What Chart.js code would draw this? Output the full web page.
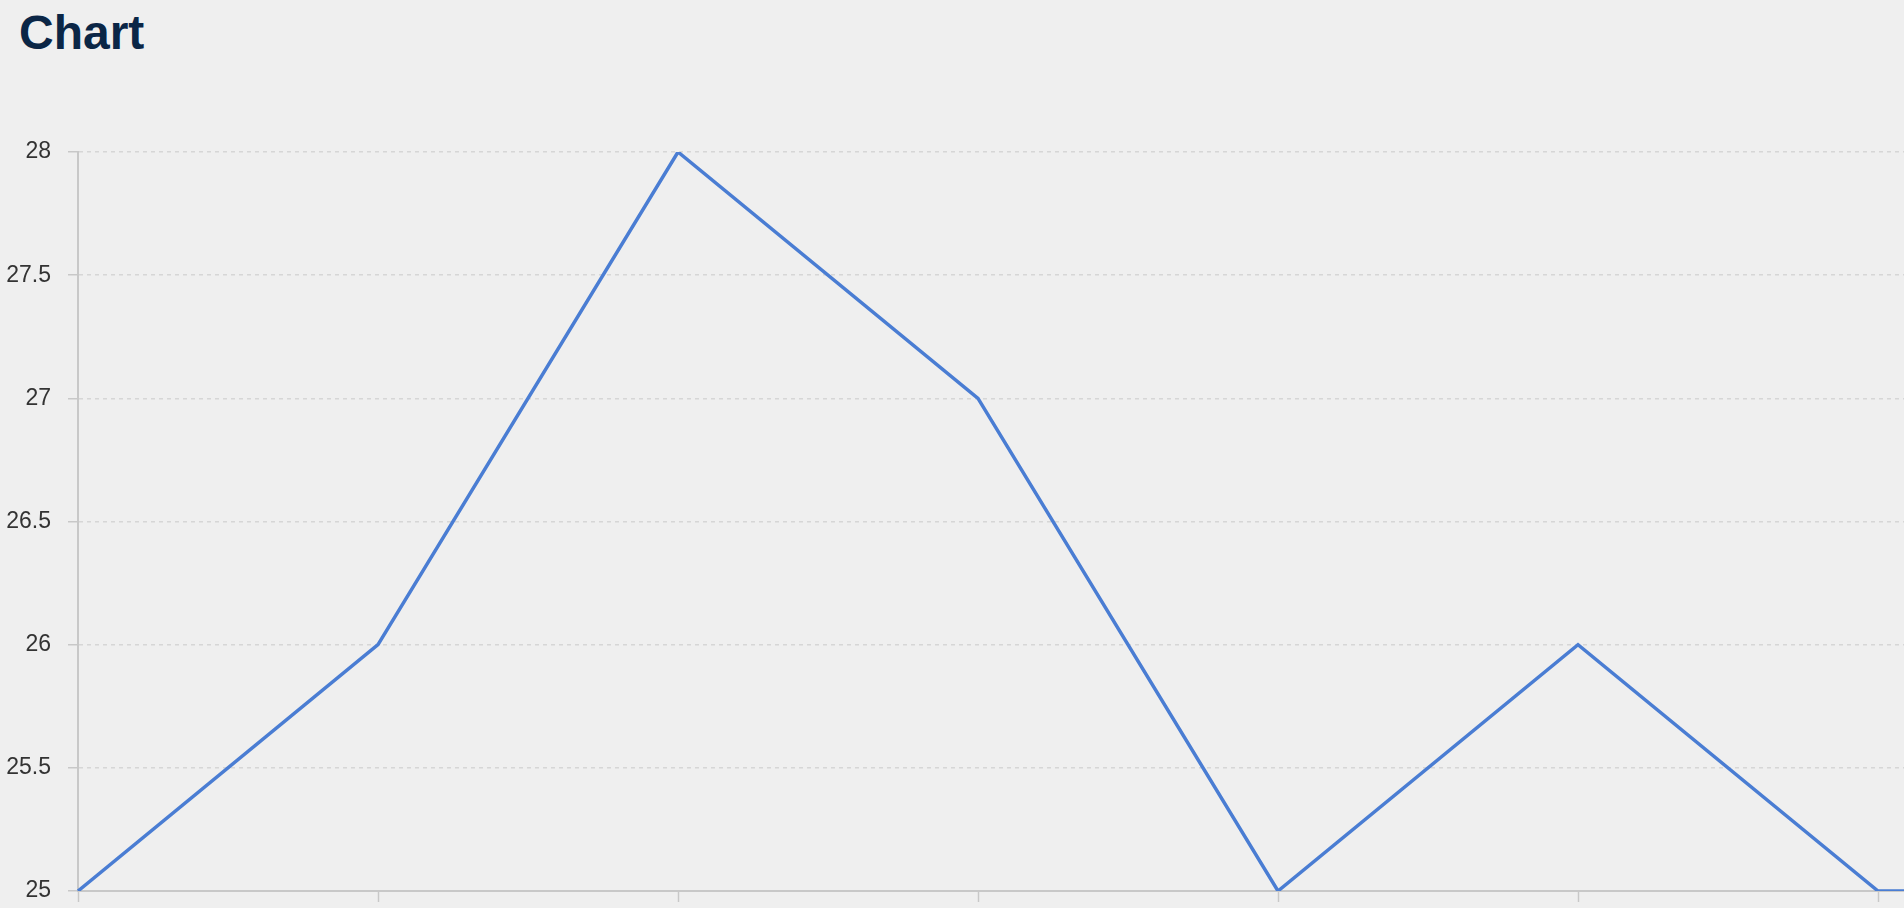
<!DOCTYPE html>
<html>
<head>
<meta charset="utf-8">
<title>Chart</title>
<script src="https://cdn.jsdelivr.net/npm/chart.js@4/dist/chart.umd.min.js"></script>
<style>
  html, body {
    margin: 0;
    padding: 0;
    width: 1904px;
    height: 908px;
    overflow: hidden;
    background: #efefef;
  }
  h1 {
    position: absolute;
    left: 19px;
    top: 9px;
    margin: 0;
    font: bold 48px/1 "Liberation Sans", Arial, sans-serif;
    color: #0b2646;
  }
  .chart-wrap {
    position: absolute;
    left: 0;
    top: 100px;
    width: 2300px;
    height: 851px;
  }
</style>
</head>
<body>
<h1>Chart</h1>
<div class="chart-wrap"><canvas class="js-chart"></canvas></div>
<script>
// データ
const categories = ["1", "2", "3", "4", "5", "6", "7", "8"];
const values = [25, 26, 28, 27, 25, 26, 25, 25];
const yTicks = [25, 25.5, 26, 26.5, 27, 27.5, 28];

window.addEventListener("DOMContentLoaded", () => {
  const ctx = document.querySelector(".js-chart").getContext("2d");

  new Chart(ctx, {
    type: "line",
    data: {
      labels: categories,
      datasets: [
        {
          label: "Chart",
          data: values,
          borderColor: "#4a7dd3",
          borderWidth: 3.5,
          pointRadius: 0,
          tension: 0,
          fill: false,
        },
      ],
    },
    options: {
      responsive: true,
      maintainAspectRatio: false,
      animation: false,
      layout: {
        padding: { top: 52, right: 122, bottom: 0, left: 0 },
      },
      plugins: {
        legend: { display: false },
        tooltip: { enabled: false },
      },
      scales: {
        x: {
          offset: false,
          afterFit: (scale) => {
            scale.height = 60;
          },
          grid: {
            drawOnChartArea: false,
            drawTicks: true,
            tickLength: 11,
            tickColor: "#c8c8c8",
            tickWidth: 1.5,
          },
          border: { color: "#c8c8c8", width: 2 },
          ticks: {
            color: "#333",
            font: { family: "'Liberation Sans', Arial, sans-serif", size: 23 },
          },
        },
        y: {
          min: yTicks[0],
          max: yTicks[yTicks.length - 1],
          afterFit: (scale) => {
            scale.width = 78;
          },
          afterBuildTicks: (scale) => {
            scale.ticks = yTicks.map((v) => ({ value: v }));
          },
          grid: {
            color: "#d6d6d6",
            lineWidth: 1.5,
            tickLength: 10,
            tickColor: "#c8c8c8",
            tickWidth: 1.5,
            tickBorderDash: [],
          },
          border: { color: "#c8c8c8", width: 2, dash: [4, 4] },
          ticks: {
            padding: 17,
            color: "#333",
            font: { family: "'Liberation Sans', Arial, sans-serif", size: 23 },
            callback: (value) => String(value),
          },
        },
      },
    },
  });
});
</script>
</body>
</html>
